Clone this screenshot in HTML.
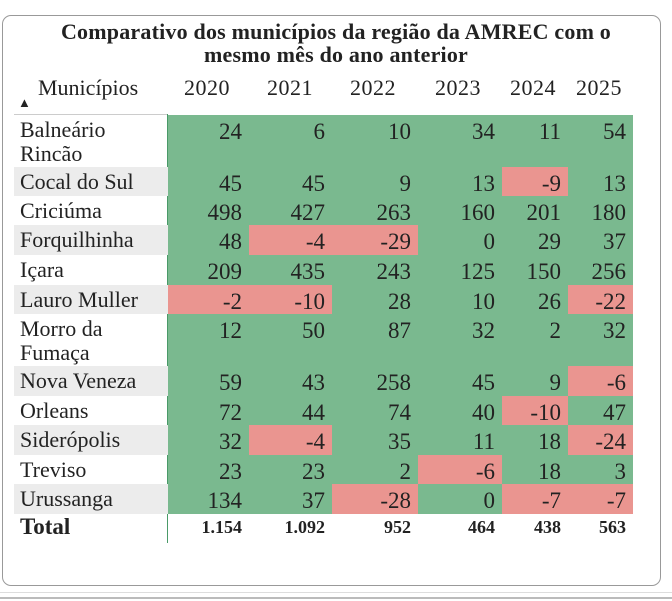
<!DOCTYPE html>
<html><head><meta charset="utf-8"><style>
body{margin:0;width:672px;height:601px;background:#fff;position:relative;overflow:hidden;font-family:"Liberation Serif",serif;color:#222}
.card{position:absolute;left:2px;top:15px;width:657px;height:569px;border:1.5px solid #999;border-radius:9px}
.t{position:absolute;left:0;width:672px;text-align:center;font-weight:bold;font-size:22px;line-height:23px;letter-spacing:0.2px}
.a{position:absolute;white-space:nowrap}
.c{position:absolute;}
.h{position:absolute;font-size:22px;top:75px;letter-spacing:0.5px}
.lab{position:absolute;left:14px;width:154px;font-size:22px;line-height:24px;padding-left:6px;box-sizing:border-box;white-space:nowrap}
.n{position:absolute;font-size:23px;text-align:right}
</style></head><body>
<div class="card"></div>
<div style="position:absolute;left:0;top:592px;width:672px;height:1px;background:#ddd"></div>
<div style="position:absolute;left:0;top:597px;width:672px;height:2px;background:#bbb"></div>
<div class="t" style="top:20px">Comparativo dos municípios da região da AMREC com o</div>
<div class="t" style="top:43px">mesmo mês do ano anterior</div>
<div class="h" style="left:38px;letter-spacing:0">Municípios</div>
<div class="a" style="left:18px;top:95px;font-size:13px">▲</div>
<div class="h" style="left:184px">2020</div>
<div class="h" style="left:267px">2021</div>
<div class="h" style="left:350px">2022</div>
<div class="h" style="left:435px">2023</div>
<div class="h" style="left:510px">2024</div>
<div class="h" style="left:576px">2025</div>
<div style="position:absolute;left:14px;top:114px;width:154px;height:1px;background:#ccc"></div>
<div style="position:absolute;left:167px;top:114px;width:1px;height:429px;background:#4a9a68"></div>
<div style="position:absolute;left:168px;top:115px;width:465px;height:399px;background:#7ab98f"></div>
<div id="t"></div>
<script>
const rows=[
["Balneário<br>Rincão",115,167,[24,6,10,34,11,54],0],
["Cocal do Sul",167,196,[45,45,9,13,-9,13],1],
["Criciúma",196,225,[498,427,263,160,201,180],0],
["Forquilhinha",225,255,[48,-4,-29,0,29,37],1],
["Içara",255,285,[209,435,243,125,150,256],0],
["Lauro Muller",285,314,[-2,-10,28,10,26,-22],1],
["Morro da<br>Fumaça",314,366,[12,50,87,32,2,32],0],
["Nova Veneza",366,396,[59,43,258,45,9,-6],1],
["Orleans",396,425,[72,44,74,40,-10,47],0],
["Siderópolis",425,455,[32,-4,35,11,18,-24],1],
["Treviso",455,484,[23,23,2,-6,18,3],0],
["Urussanga",484,514,[134,37,-28,0,-7,-7],1]];
const xs=[168,249,332,418,502,568,633];
let h="";
for(const [n,y0,y1,v,g] of rows){
 h+=`<div class="lab" style="top:${y0}px;height:${y1-y0}px;padding-top:3px;${g?'background:#ececec':''}">${n}</div>`;
 v.forEach((x,i)=>{
  if(x<0)h+=`<div class="c" style="left:${xs[i]}px;top:${y0}px;width:${xs[i+1]-xs[i]}px;height:${y1-y0}px;background:#ea9590"></div>`;
  h+=`<div class="n" style="left:${xs[i]}px;width:${xs[i+1]-xs[i]-7}px;top:${y0+4}px">${x}</div>`;
 });
}
h+=`<div class="lab" style="top:515px;font-weight:bold;font-size:23px">Total</div>`;
["1.154","1.092","952","464","438","563"].forEach((x,i)=>{
 h+=`<div class="n" style="left:${xs[i]}px;width:${xs[i+1]-xs[i]-7}px;top:517px;font-size:18px;font-weight:bold">${x}</div>`;
});
document.getElementById("t").innerHTML=h;
</script>
</body></html>
